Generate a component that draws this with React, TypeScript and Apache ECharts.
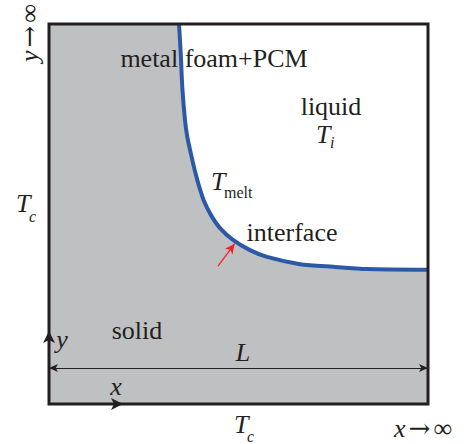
import React, { useEffect, useRef } from "react";
import * as echarts from "echarts";

// Melt interface position, normalised to the domain (x / L, y / H)
const interfaceX = [0.343, 0.3475, 0.3517, 0.3588, 0.3649, 0.3739, 0.3844, 0.3966, 0.409, 0.4274, 0.4512, 0.4855, 0.5303, 0.5752, 0.6623, 0.7493, 0.839, 1.0];
const interfaceY = [1.0, 0.924, 0.834, 0.747, 0.703, 0.661, 0.616, 0.571, 0.534, 0.497, 0.463, 0.432, 0.405, 0.387, 0.368, 0.361, 0.355, 0.353];

// Pointer to the interface and the width dimension line
const pointerFrom = [0.446, 0.363];
const pointerTo = [0.49, 0.422];
const widthLineY = 0.095;

const SERIF = "Liberation Serif, Times New Roman, serif";
const INK = "#231f20";

function txt(x: number, y: number, text: string, size: number, italic = false, align = "center", vAlign = "middle", extra: any = {}) {
  return {
    type: "text",
    x,
    y,
    z: 120,
    ...extra,
    style: {
      text,
      fontSize: size,
      fontFamily: SERIF,
      fontStyle: italic ? "italic" : "normal",
      fill: INK,
      align,
      textAlign: align,
      verticalAlign: vAlign,
      textVerticalAlign: vAlign,
      ...(extra.style || {}),
    },
  };
}

const limitRich = {
  v: { fontSize: 26, fontFamily: SERIF, fontStyle: "italic", fill: INK, color: INK },
  a: { fontSize: 26, fontFamily: "DejaVu Serif, serif", fill: INK, color: INK, padding: [0, 3, 0, 3] },
  inf: { fontSize: 26, fontFamily: SERIF, fill: INK, color: INK },
};

export default function App() {
  const ref = useRef<HTMLDivElement>(null);

  useEffect(() => {
    if (!ref.current) return;
    document.body.style.margin = "0";
    const chart = echarts.init(ref.current, null, { renderer: "svg" });
    const curve = interfaceX.map((x, i) => [x, interfaceY[i]]);

    chart.setOption({
      animation: false,
      grid: {
        left: 49,
        top: 24,
        right: 37,
        bottom: 40,
        show: true,
        backgroundColor: "#bfc0c2",
        borderWidth: 0,
      },
      xAxis: { type: "value", min: 0, max: 1, show: false },
      yAxis: { type: "value", min: 0, max: 1, show: false },
      series: [
        {
          type: "line",
          data: curve,
          smooth: 0.25,
          showSymbol: false,
          symbol: "none",
          lineStyle: { color: "#2c58a8", width: 4 },
          areaStyle: { color: "#ffffff", opacity: 1, origin: "end" },
          z: 3,
          markLine: {
            silent: true,
            symbol: ["none", "arrow"],
            symbolSize: [7, 10],
            label: { show: false },
            lineStyle: { color: "#e8262a", width: 1.3, type: "solid" },
            data: [[{ coord: pointerFrom }, { coord: pointerTo }]],
          },
        },
        {
          type: "line",
          data: [],
          markLine: {
            silent: true,
            symbol: ["arrow", "arrow"],
            symbolSize: [6, 9],
            label: { show: false },
            lineStyle: { color: INK, width: 1.2, type: "solid" },
            data: [[{ coord: [0, widthLineY] }, { coord: [1, widthLineY] }]],
          },
        },
      ],
      graphic: [
        {
          type: "rect",
          z: 100,
          shape: { x: 49, y: 24, width: 379, height: 380 },
          style: { fill: "none", stroke: INK, lineWidth: 3 },
        },
        // y-direction arrowhead
        {
          type: "polygon",
          z: 110,
          shape: { points: [[49, 331], [55, 343], [49, 340], [43, 343]] },
          style: { fill: INK },
        },
        // x-direction arrowhead
        {
          type: "polygon",
          z: 110,
          shape: { points: [[123, 404], [111, 398], [114, 404], [111, 410]] },
          style: { fill: INK },
        },
        txt(214, 58, "metal foam+PCM", 26),
        txt(331, 106, "liquid", 26),
        txt(137, 330, "solid", 26),
        txt(292, 232, "interface", 26),
        txt(243, 352, "L", 26, true),
        txt(62, 339, "y", 26, true),
        txt(116, 386, "x", 26, true),
        // T_i
        txt(316, 134, "T", 26, true, "left"),
        txt(330, 142, "i", 16, true, "left"),
        // T_melt
        txt(211, 181, "T", 26, true, "left"),
        txt(224, 192, "melt", 16, false, "left"),
        // T_c left
        txt(16, 203, "T", 26, true, "left"),
        txt(29, 216, "c", 16, true, "left"),
        // T_c bottom
        txt(234, 424, "T", 26, true, "left"),
        txt(247, 436, "c", 16, true, "left"),
        txt(423, 428, "{v|x}{a|\u2192}{inf|\u221e}", 26, false, "center", "middle", { style: { rich: limitRich } }),
        txt(29, 33, "{v|y}{a|\u2192}{inf|\u221e}", 26, false, "center", "middle", { rotation: Math.PI / 2, style: { rich: limitRich } }),
      ],
    });
    return () => chart.dispose();
  }, []);

  return <div ref={ref} style={{ width: 465, height: 444 }} />;
}
